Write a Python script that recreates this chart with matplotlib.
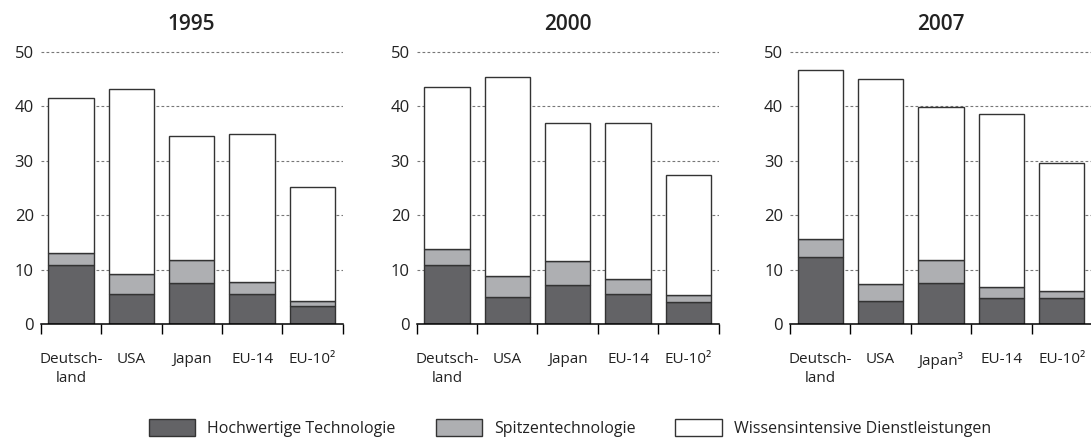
import matplotlib.pyplot as plt
from matplotlib.patches import Patch

plt.rcParams['font.family'] = ['Open Sans', 'DejaVu Sans']

years = ["1995", "2000", "2007"]
labels_std = ["Deutsch-\nland", "USA", "Japan", "EU-14", "EU-10²"]
labels_2007 = ["Deutsch-\nland", "USA", "Japan³", "EU-14", "EU-10²"]

# Hochwertige Technologie
hoch_1995 = [10.8, 5.6, 7.6, 5.6, 3.3]
hoch_2000 = [10.8, 5.0, 7.15, 5.55, 4.0]
hoch_2007 = [12.25, 4.15, 7.6, 4.85, 4.8]
# Spitzentechnologie
spitze_1995 = [2.3, 3.6, 4.1, 2.2, 0.9]
spitze_2000 = [3.0, 3.8, 4.35, 2.65, 1.25]
spitze_2007 = [3.3, 3.15, 4.15, 2.0, 1.2]
# Wissensintensive Dienstleistungen
wissen_1995 = [28.45, 34.0, 22.9, 27.0, 20.95]
wissen_2000 = [29.65, 36.55, 25.35, 28.65, 22.05]
wissen_2007 = [31.05, 37.7, 28.15, 31.8, 23.5]

hoch = [hoch_1995, hoch_2000, hoch_2007]
spitze = [spitze_1995, spitze_2000, spitze_2007]
wissen = [wissen_1995, wissen_2000, wissen_2007]
cat_labels = [labels_std, labels_std, labels_2007]

c_dark = "#636366"
c_grey = "#aeafb2"
c_white = "#ffffff"
edge = "#333333"
txt = "#222222"

fig = plt.figure(figsize=(10.91, 4.4), dpi=100)
lefts = [40.7, 416.7, 790]
bottom = 1 - 324 / 440
height = (324 - 51.7) / 440 * 50.3 / 50

for i in range(3):
    ax = fig.add_axes([lefts[i] / 1091, bottom, 302 / 1091, height])
    x = range(len(hoch[i]))
    base2 = [a + b for a, b in zip(hoch[i], spitze[i])]
    ax.bar(x, hoch[i], width=0.75, color=c_dark, edgecolor=edge, linewidth=1, zorder=3)
    ax.bar(x, spitze[i], bottom=hoch[i], width=0.75, color=c_grey, edgecolor=edge, linewidth=1, zorder=3)
    ax.bar(x, wissen[i], bottom=base2, width=0.75, color=c_white, edgecolor=edge, linewidth=1, zorder=3)

    ax.set_xlim(-0.5, 4.5)
    ax.set_ylim(0, 50.3)
    ax.set_yticks([0, 10, 20, 30, 40, 50])
    ax.yaxis.grid(True, linestyle=(0, (2.5, 2)), color="#777777", linewidth=0.8, zorder=0)
    ax.tick_params(axis='y', length=0, pad=5, labelsize=12, colors=txt)

    ax.set_xticks([-0.5, 0.5, 1.5, 2.5, 3.5, 4.5])
    ax.set_xticklabels([])
    ax.tick_params(axis='x', which='major', length=7, width=1, direction='out', color='black')
    ax.set_xticks(list(x), minor=True)
    ax.set_xticklabels(cat_labels[i], minor=True, linespacing=1.35)
    ax.tick_params(axis='x', which='minor', length=0, pad=20, labelsize=11, colors=txt)

    for s in ['top', 'right', 'left']:
        ax.spines[s].set_visible(False)
    ax.spines['bottom'].set_linewidth(1.1)
    ax.spines['bottom'].set_zorder(4)
    ax.set_title(years[i], fontsize=15, fontweight='semibold', pad=14.5, color=txt)

handles = [Patch(facecolor=c_dark, edgecolor=edge, linewidth=1),
           Patch(facecolor=c_grey, edgecolor=edge, linewidth=1),
           Patch(facecolor=c_white, edgecolor=edge, linewidth=1)]
leg = fig.legend(handles, ["Hochwertige Technologie", "Spitzentechnologie",
                           "Wissensintensive Dienstleistungen"],
                 loc='center left', bbox_to_anchor=(149 / 1091, 1 - 428 / 440), ncol=3,
                 frameon=False, fontsize=11.5, handlelength=2.9, handleheight=1.25,
                 handletextpad=0.75, columnspacing=2.5, borderpad=0, borderaxespad=0)
for t in leg.get_texts():
    t.set_color(txt)

fig.savefig("out.png", dpi=100)
